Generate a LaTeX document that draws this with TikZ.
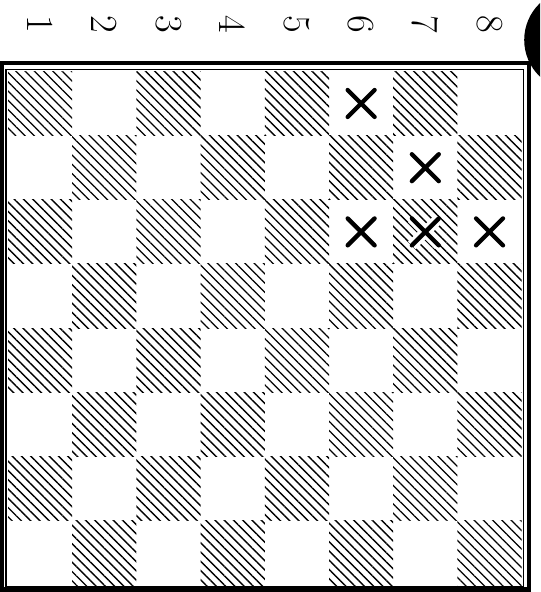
\documentclass[tikz,border=0pt]{standalone}
\usetikzlibrary{patterns.meta}

\begin{document}
\begin{tikzpicture}[
  dark/.style={pattern={Lines[angle=-45,distance=2.9pt,line width=0.6pt]}},
  cross/.style={line width=1.9pt,line cap=round},
  halo/.style={white,line width=4.8pt},
  lbl/.style={rotate=-90,font=\fontsize{17}{20}\selectfont}
]
\useasboundingbox (-0.125,-0.109) rectangle (8.287,9.112);
\clip (-0.125,-0.109) rectangle (8.287,9.112);
% hatched squares
\foreach \c in {1,...,8}
  \foreach \r in {1,...,8} {
    \pgfmathparse{int(mod(\c+\r,2))}
    \ifnum\pgfmathresult=0 \fill[dark] (\c-1,8-\r) rectangle ++(1,1); \fi
  }
% file numbers
\foreach \c in {1,...,8}
  \node[lbl] (f\c) at (\c-0.5,8.74) {\c};
% frame
\draw[line width=0.7pt] (-0.03,-0.03) rectangle (8.03,8.03);
\draw[line width=1.8pt] (-0.095,-0.07) rectangle (8.12,8.13);
\fill (8.83,8.49) circle (0.79);
% marks
\foreach \c/\r in {6/1,7/2,6/3,7/3,8/3} {
  \draw[halo] (\c-0.71,8.29-\r) -- ++(0.42,0.42) (\c-0.71,8.71-\r) -- ++(0.42,-0.42);
  \draw[cross] (\c-0.71,8.29-\r) -- ++(0.42,0.42) (\c-0.71,8.71-\r) -- ++(0.42,-0.42);
}
\end{tikzpicture}
\end{document}
